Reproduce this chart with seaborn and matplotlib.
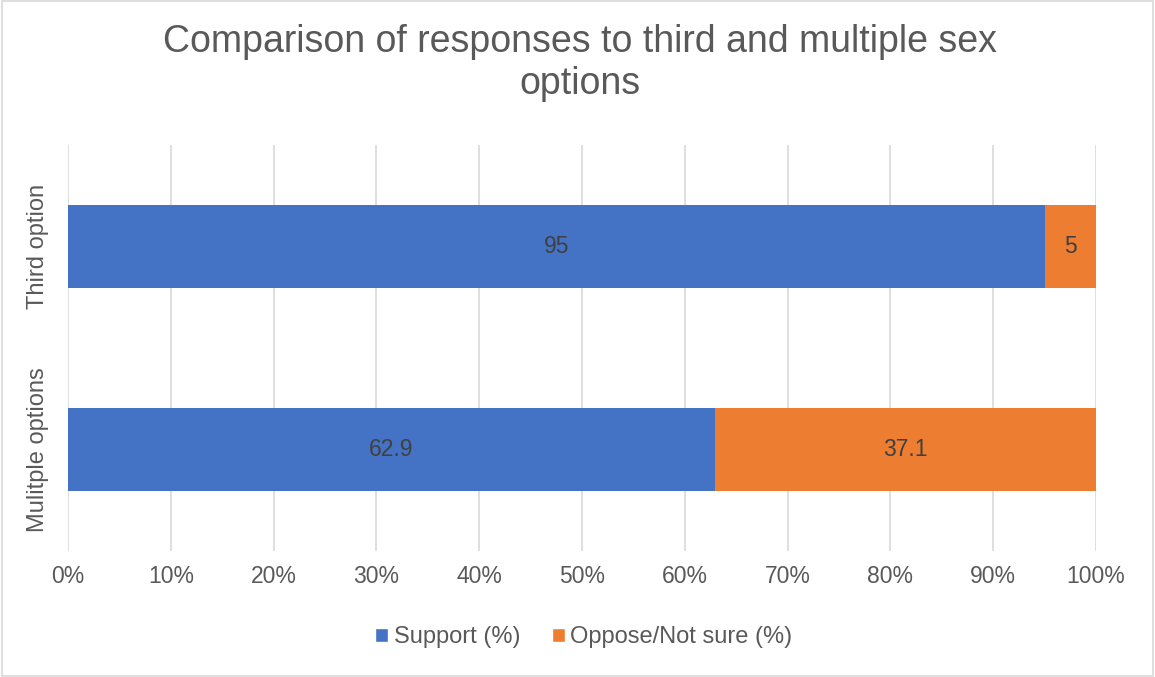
import matplotlib
matplotlib.use("Agg")
import matplotlib.pyplot as plt
import seaborn as sns
import pandas as pd
from matplotlib.patches import Patch, Rectangle

categories = ["Third option", "Mulitple options"]
support = [95, 62.9]
oppose = [5, 37.1]
x_ticks = [0, 10, 20, 30, 40, 50, 60, 70, 80, 90, 100]
x_tick_labels = [f"{t}%" for t in x_ticks]

BLUE = "#4472C4"
ORANGE = "#ED7D31"
TEXT = "#595959"
GRID = "#D9D9D9"

sns.set_theme(style="white")
plt.rcParams["font.family"] = ["Liberation Sans", "DejaVu Sans"]

df = pd.DataFrame({"category": categories, "support": support, "oppose": oppose})
df["total"] = df["support"] + df["oppose"]

fig = plt.figure(figsize=(11.55, 6.77), dpi=100)
ax = fig.add_axes([68 / 1155, 1 - 551 / 677, (1096 - 68) / 1155, (551 - 145) / 677])

# stacked horizontal bars: full length in orange, support drawn over it
sns.barplot(data=df, x="total", y="category", order=categories, color=ORANGE,
            orient="h", width=0.41, ax=ax, saturation=1, linewidth=0, zorder=2)
sns.barplot(data=df, x="support", y="category", order=categories, color=BLUE,
            orient="h", width=0.41, ax=ax, saturation=1, linewidth=0, zorder=3)

for i, (s, o) in enumerate(zip(support, oppose)):
    ax.text(s / 2, i, f"{s:g}", ha="center", va="center", fontsize=16.5, color="#404040", zorder=4)
    ax.text(s + o / 2, i, f"{o:g}", ha="center", va="center", fontsize=16.5, color="#404040", zorder=4)

ax.set_xlim(0, 100)
ax.set_ylim(1.5, -0.5)
ax.set_xticks(x_ticks)
ax.set_xticklabels(x_tick_labels, fontsize=16.5, color=TEXT)
ax.set_yticks(range(len(categories)))
ax.set_yticklabels(categories, fontsize=17, color=TEXT, rotation=90, va="center")
ax.tick_params(axis="x", length=0, pad=10)
ax.tick_params(axis="y", length=0, pad=14)
ax.set_xlabel("")
ax.set_ylabel("")
ax.xaxis.grid(True, color=GRID, linewidth=1.2, zorder=0)
ax.set_axisbelow(True)
for sp in ax.spines.values():
    sp.set_visible(False)

fig.suptitle("Comparison of responses to third and multiple sex\noptions",
             x=580 / 1155, y=1 - 24 / 677, fontsize=27, color=TEXT, va="top",
             linespacing=1.2)

handles = [Patch(facecolor=BLUE, label="Support (%)"),
           Patch(facecolor=ORANGE, label="Oppose/Not sure (%)")]
fig.legend(handles=handles, loc="center", bbox_to_anchor=(584 / 1155, 1 - 637 / 677),
           ncol=2, frameon=False, fontsize=17, labelcolor=TEXT,
           handlelength=0.55, handleheight=0.55, handletextpad=0.25, columnspacing=1.3)

fig.patches.append(Rectangle((0.002, 0.002), 0.996, 0.996, transform=fig.transFigure,
                             fill=False, edgecolor=GRID, linewidth=1.2))

fig.savefig("out.png", dpi=100)
